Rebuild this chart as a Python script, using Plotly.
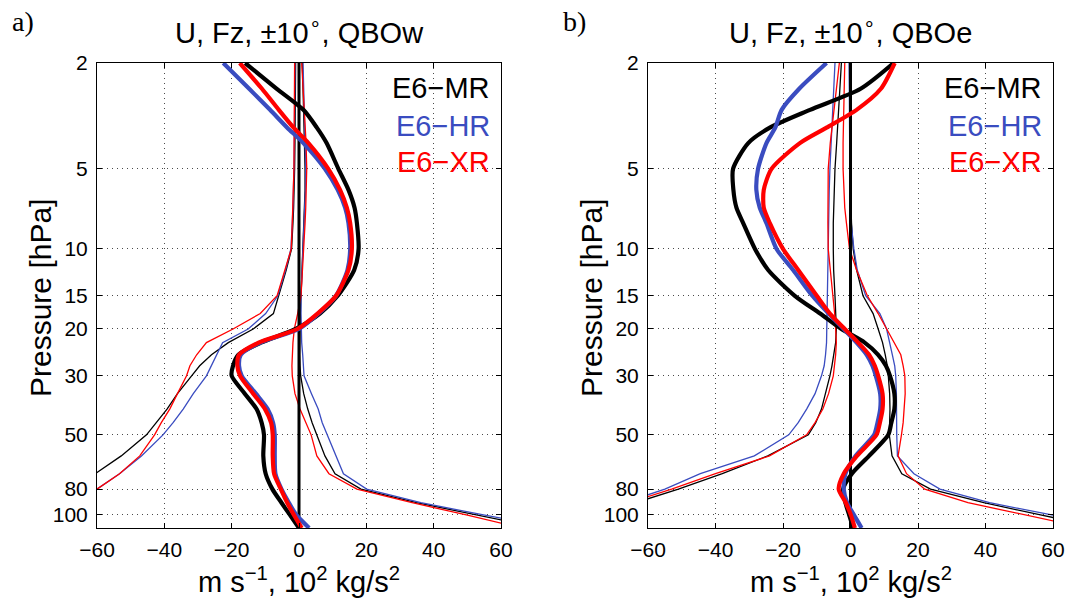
import numpy as np
import plotly.graph_objects as go

# Pressure levels [hPa]
P = [2, 2.5, 3, 3.5, 4, 5, 6, 7, 8, 10, 12, 15, 17.5, 20, 22.5, 25, 27.5, 30,
     35, 40, 45, 50, 60, 70, 80, 90, 100, 112]

# ---- QBO west phase: zonal wind U [m/s] ----
U_MR_w = [-16, -6.6, 1.3, 5.3, 8.2, 11.7, 14.7, 16.5, 17.2, 17.7, 16.4, 11.5, 6.2, -1.0,
          -11.3, -18.0, -19.6, -20.0, -16.1, -12.6, -11.1, -10.4, -10.6, -9.9, -7.9, -5.2, -2.7, 0.0]
U_HR_w = [-22.5, -14.8, -8.6, -3.5, 1.3, 7.7, 11.5, 13.7, 14.7, 15.2, 14.4, 11.0, 5.8, 0.0,
          -11.5, -17.3, -17.8, -17.0, -12.8, -9.3, -7.7, -7.2, -7.2, -7.0, -5.2, -3.0, -0.8, 3.0]
U_XR_w = [-17.6, -11.0, -6.0, -1.6, 2.8, 8.7, 12.2, 14.2, 15.2, 15.7, 14.7, 11.0, 5.5, -0.5,
          -12.0, -17.8, -18.3, -17.5, -13.6, -10.1, -8.3, -7.8, -7.8, -7.4, -5.4, -3.5, -1.5, 0.8]

# ---- QBO west phase: vertical wave flux Fz [10^2 kg/s^2], westward / eastward ----
FzW_MR_w = [-1.0, -1.0, -1.1, -1.1, -1.2, -1.3, -1.4, -1.6, -1.8, -2.2, -3.8, -6.0, -7.6, -13.6,
            -21.0, -26.0, -29.5, -31.9, -36.1, -39.2, -42.4, -45.3, -52.8, -60.5, -70, -80, -90, -100]
FzW_HR_w = [-1.2, -1.2, -1.3, -1.3, -1.4, -1.5, -1.6, -1.8, -2.0, -2.4, -4.0, -6.3, -9.9, -15.1,
            -22.7, -24.4, -26.0, -27.5, -31.4, -34.4, -37.4, -40.4, -46.8, -53.3, -60.0, -70, -80, -90]
FzW_XR_w = [-1.3, -1.3, -1.4, -1.4, -1.5, -1.5, -1.7, -1.8, -2.0, -2.3, -4.2, -6.5, -11.5, -19.6,
            -27.5, -30.4, -32.4, -33.4, -36.1, -38.4, -40.9, -42.9, -47.3, -53.3, -60.0, -68, -78, -90]
FzE_MR_w = [1.0, 1.2, 1.4, 1.6, 1.7, 1.8, 1.8, 1.6, 1.4, 1.0, 0.7, 0.5, 0.4, 0.3,
            0.2, 0.2, 0.3, 0.5, 1.4, 2.6, 3.9, 5.3, 7.7, 10.7, 18.4, 34.9, 52.7, 72]
FzE_HR_w = [1.2, 1.4, 1.6, 1.8, 1.9, 2.0, 1.9, 1.7, 1.5, 1.1, 0.8, 0.6, 0.6, 0.6,
            0.8, 1.1, 1.3, 1.5, 3.7, 5.7, 6.9, 8.4, 11.0, 13.2, 20.1, 36.2, 54.8, 76]
FzE_XR_w = [0.8, 1.2, 1.6, 1.9, 2.1, 2.3, 2.2, 2.0, 1.8, 1.3, 1.0, 0.6, -0.4, -1.4,
            -1.8, -2.0, -2.1, -2.0, -1.2, 0.3, 2.1, 3.6, 5.3, 8.9, 17.2, 33.6, 49.7, 66]

# ---- QBO east phase: zonal wind U [m/s] ----
U_MR_e = [12.8, 3.0, -12.0, -23.9, -30.3, -34.8, -34.7, -33.8, -31.8, -28.3, -24.4, -16.5, -9.0, -2.7,
          4.2, 8.2, 10.5, 11.7, 13.0, 13.0, 12.1, 11.2, 5.5, 0.4, -2.2, -1.5, -0.4, 0.8]
U_HR_e = [-7.1, -15.2, -20.4, -22.3, -24.9, -27.4, -27.9, -26.9, -24.9, -21.9, -17.0, -11.3, -6.5, -2.0,
          1.8, 4.8, 6.5, 7.5, 8.8, 8.8, 8.0, 7.0, 1.5, -1.5, -2.0, -1.0, 1.0, 3.3]
U_XR_e = [13.1, 9.0, 1.8, -7.1, -15.0, -23.4, -25.7, -25.7, -23.9, -20.0, -15.5, -10.0, -6.1, -1.7,
          2.3, 5.5, 7.2, 8.2, 9.5, 9.5, 8.7, 7.7, 1.9, -2.0, -3.5, -1.4, 0.1, 1.3]

# ---- QBO east phase: vertical wave flux Fz, westward / eastward ----
FzW_MR_e = [-2.7, -3.1, -3.5, -3.8, -4.1, -4.6, -4.8, -5.0, -5.1, -5.1, -5.0, -4.6, -4.3, -4.2,
            -4.4, -4.9, -5.5, -6.1, -7.4, -8.6, -10.3, -12.5, -24.5, -38.0, -51.0, -63, -75, -88]
FzW_HR_e = [-4.6, -5.0, -5.3, -5.6, -5.9, -6.1, -6.3, -6.4, -6.5, -6.6, -6.7, -6.7, -6.8, -6.9,
            -7.1, -7.4, -7.8, -8.6, -10.5, -13.0, -15.5, -18.3, -28.5, -44.5, -55.0, -67, -78, -90]
FzW_XR_e = [-3.3, -4.2, -5.0, -5.6, -6.0, -6.6, -6.7, -6.7, -6.7, -6.6, -6.0, -5.1, -4.7, -4.4,
            -4.2, -4.4, -4.8, -5.1, -6.5, -8.2, -10.5, -13.0, -24.0, -40.0, -53.0, -65, -77, -90]
FzE_MR_e = [-0.3, -0.3, -0.3, -0.3, -0.2, -0.1, 0.0, 0.1, 0.3, 0.8, 1.8, 3.7, 6.7, 8.2,
            9.5, 10.3, 10.9, 11.2, 11.6, 11.7, 11.7, 11.5, 12.3, 15.2, 23.7, 39.5, 56.3, 75]
FzE_HR_e = [-0.4, -0.4, -0.4, -0.3, -0.3, -0.2, -0.1, 0.0, 0.2, 1.0, 2.0, 4.5, 8.7, 10.7,
            11.7, 12.4, 13.1, 13.4, 13.6, 13.6, 13.6, 13.7, 13.9, 18.8, 26.5, 41.2, 59.6, 79]
FzE_XR_e = [-1.7, -1.9, -2.0, -2.1, -2.2, -2.2, -2.0, -1.7, -1.2, -0.3, 1.8, 5.0, 8.2, 10.7,
            13.1, 14.9, 15.6, 16.1, 16.2, 16.0, 15.6, 15.1, 14.1, 16.6, 22.0, 34.8, 51.5, 70]

ZERO_X = [0, 0]
ZERO_P = [2, 112]

MODELS = ["E6−MR", "E6−HR", "E6−XR"]
COLORS = ["#000000", "#3a4cc0", "#ff0000"]

X_TICKS = [-60, -40, -20, 0, 20, 40, 60]
P_TICKS = [2, 5, 10, 15, 20, 30, 50, 80, 100]

panels = [
    dict(tag="a)", title="U, Fz, ±10<sup>∘</sup>, QBOw",
         U=[U_MR_w, U_HR_w, U_XR_w],
         FzW=[FzW_MR_w, FzW_HR_w, FzW_XR_w],
         FzE=[FzE_MR_w, FzE_HR_w, FzE_XR_w]),
    dict(tag="b)", title="U, Fz, ±10<sup>∘</sup>, QBOe",
         U=[U_MR_e, U_HR_e, U_XR_e],
         FzW=[FzW_MR_e, FzW_HR_e, FzW_XR_e],
         FzE=[FzE_MR_e, FzE_HR_e, FzE_XR_e]),
]

W, H = 1068, 601
x_px = [(97, 501), (648, 1053)]
y_top, y_bot = 63, 528

FONT = "Liberation Sans, Arial, Helvetica, sans-serif"

fig = go.Figure()
annotations = []

for i, pan in enumerate(panels):
    xa = "x" if i == 0 else "x2"
    ya = "y" if i == 0 else "y2"
    # thin wave-flux profiles
    for fam in ("FzW", "FzE"):
        for c, vals in zip(COLORS, pan[fam]):
            fig.add_trace(go.Scatter(x=vals, y=P, mode="lines", xaxis=xa, yaxis=ya,
                                     line=dict(color=c, width=1.3), showlegend=False,
                                     hoverinfo="skip"))
    # zero reference line
    fig.add_trace(go.Scatter(x=ZERO_X, y=ZERO_P, mode="lines", xaxis=xa, yaxis=ya,
                             line=dict(color="black", width=3), showlegend=False,
                             hoverinfo="skip"))
    # thick wind profiles
    for c, vals in zip(COLORS, pan["U"]):
        fig.add_trace(go.Scatter(x=vals, y=P, mode="lines", xaxis=xa, yaxis=ya,
                                 line=dict(color=c, width=4.2, shape="spline", smoothing=0.7),
                                 showlegend=False, hoverinfo="skip"))

    x0, x1 = x_px[i]
    cx = (x0 + x1) / 2
    xdom = [x0 / W, x1 / W]
    axis_common = dict(showline=True, linecolor="black", linewidth=1, mirror="ticks",
                       ticks="inside", ticklen=5, tickcolor="black", automargin=False,
                       showgrid=True, gridcolor="#4a4a4a", griddash="1px,4px", gridwidth=1,
                       zeroline=False, tickfont=dict(family=FONT, size=21, color="black"))
    xkey = "xaxis" if i == 0 else "xaxis2"
    ykey = "yaxis" if i == 0 else "yaxis2"
    fig.update_layout(**{
        xkey: dict(domain=xdom, range=[-60, 60], tickvals=X_TICKS,
                   anchor=ya, ticklabelstandoff=3, **axis_common),
        ykey: dict(domain=[1 - y_bot / H, 1 - y_top / H], type="log",
                   range=[np.log10(112), np.log10(2)], tickvals=P_TICKS,
                   ticktext=[str(v) for v in P_TICKS], anchor=xa,
                   ticklabelstandoff=4, **axis_common),
    })

    # panel title and tag
    annotations.append(dict(text=pan["title"], x=cx / W, y=1 - 31 / H, xref="paper", yref="paper",
                            xanchor="center", yanchor="middle", showarrow=False,
                            font=dict(family=FONT, size=29, color="black")))
    annotations.append(dict(text=pan["tag"], x=(x0 - 74) / W, y=1 - 22 / H, xref="paper", yref="paper",
                            xanchor="center", yanchor="middle", showarrow=False,
                            font=dict(family="Liberation Serif, DejaVu Serif, serif", size=28,
                                      color="black")))
    # axis titles
    annotations.append(dict(text="m s<sup>−1</sup>, 10<sup>2</sup> kg/s<sup>2</sup>",
                            x=cx / W, y=1 - 580 / H, xref="paper", yref="paper",
                            xanchor="center", yanchor="middle", showarrow=False,
                            font=dict(family=FONT, size=29, color="black")))
    annotations.append(dict(text="Pressure [hPa]", x=(x0 - 57) / W, y=1 - 298 / H,
                            xref="paper", yref="paper", textangle=-90,
                            xanchor="center", yanchor="middle", showarrow=False,
                            font=dict(family=FONT, size=30, color="black")))
    # model labels
    for k, (name, c) in enumerate(zip(MODELS, COLORS)):
        ypx = [88, 126, 162][k]
        annotations.append(dict(text=name, x=(x1 - 9) / W, y=1 - ypx / H,
                                xref="paper", yref="paper", xanchor="right", yanchor="middle",
                                showarrow=False, font=dict(family=FONT, size=29, color=c)))

fig.update_layout(width=W, height=H, margin=dict(l=0, r=0, t=0, b=0),
                  paper_bgcolor="white", plot_bgcolor="white",
                  annotations=annotations, showlegend=False)

fig.write_html("out.html")
